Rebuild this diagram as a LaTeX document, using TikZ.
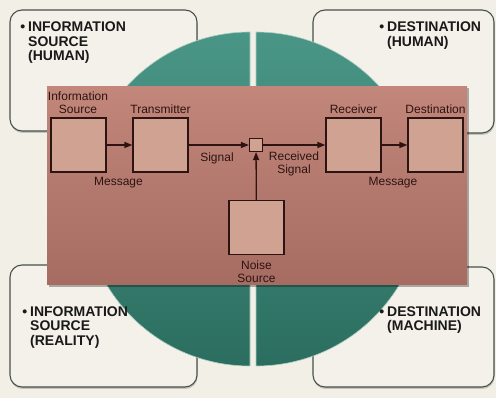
\documentclass[tikz,border=0pt]{standalone}
\usepackage{fontspec}
\setmainfont{Liberation Sans}
\usetikzlibrary{arrows.meta}

\definecolor{bgc}{RGB}{241,239,230}
\definecolor{cardfill}{RGB}{243,241,233}
\definecolor{cardline}{RGB}{72,82,72}
\definecolor{tealtop}{RGB}{74,150,134}
\definecolor{tealbot}{RGB}{43,110,96}
\definecolor{tealedge}{RGB}{170,205,192}
\definecolor{pinktop}{RGB}{194,134,122}
\definecolor{pinkbot}{RGB}{166,108,98}
\definecolor{boxfill}{RGB}{208,162,146}
\definecolor{ink}{RGB}{45,20,18}

\begin{document}
\begin{tikzpicture}[x=1pt,y=-1pt,
 card/.style={fill=cardfill, draw=cardline, line width=1.1pt, rounded corners=12pt},
 cardshadow/.style={fill=black, opacity=0.18, rounded corners=12pt},
 cardtext/.style={anchor=north west, inner sep=0pt, align=left,
   font=\fontsize{14}{14.5}\selectfont\bfseries, text=black!90},
 blk/.style={draw=ink, line width=1.2pt, fill=boxfill, minimum width=55pt,
   minimum height=54pt, inner sep=0pt},
 junction/.style={draw=ink, line width=1.2pt, fill=boxfill, minimum size=13pt, inner sep=0pt},
 lbl/.style={font=\fontsize{12}{12.6}\selectfont, text=ink, inner sep=0pt, anchor=base},
 flow/.style={draw=ink, line width=1.3pt, -{Triangle[length=8pt,width=6pt]}},
 half/.style={top color=tealtop, bottom color=tealbot, draw=tealedge, line width=0.6pt},
]
% background
\fill[bgc] (0,0) rectangle (496,398);
\useasboundingbox (0,0) rectangle (496,398);

% corner cards
\fill[cardshadow] (10.5,12) rectangle (197.5,133);
\draw[card] (10,10) rectangle (197,131);
\fill[cardshadow] (313.5,12) rectangle (494.5,135);
\draw[card] (313,10) rectangle (494,133);
\fill[cardshadow] (10.5,267) rectangle (197.5,389);
\draw[card] (10,265) rectangle (197,387);
\fill[cardshadow] (313.5,269) rectangle (494.5,389);
\draw[card] (313,267) rectangle (494,387);

% circle halves
\shade[half] (250,32) arc[start angle=90, end angle=270, radius=167pt] -- cycle;
\shade[half] (256,32) arc[start angle=90, end angle=-90, radius=167pt] -- cycle;

% central panel
\fill[black, opacity=0.3] (48.5,88.5) rectangle (468.5,287);
\shade[top color=pinktop, bottom color=pinkbot] (47,87) rectangle (467,285);

% blocks
\node[blk] (src) at (78.5,145) {};
\node[blk] (tx) at (160.5,145) {};
\node[junction] (sum) at (256,145) {};
\node[blk] (rx) at (353.5,145) {};
\node[blk] (dst) at (435.5,145) {};
\node[blk] (noise) at (256.5,227.5) {};

% connectors
\draw[flow] (src) -- (tx);
\draw[flow] (tx) -- (sum);
\draw[flow] (sum) -- (rx);
\draw[flow] (rx) -- (dst);
\draw[flow] (noise) -- (sum);

% labels
\node[lbl] (l1a) at (78,100.7) {Information};
\node[lbl] (l1b) at (78,113.3) {Source};
\node[lbl] (l2) at (160.5,113.3) {Transmitter};
\node[lbl] (l3) at (353.5,113.3) {Receiver};
\node[lbl] (l4) at (435.5,113.3) {Destination};
\node[lbl] (m1) at (118.5,186) {Message};
\node[lbl] (s1) at (217,161.5) {Signal};
\node[lbl] (r1a) at (294,161) {Received};
\node[lbl] (r1b) at (294,173.3) {Signal};
\node[lbl] (m2) at (393,186) {Message};
\node[lbl] (n1) at (256.5,270) {Noise};
\node[lbl] (n2) at (256.5,282.3) {Source};

% card texts
\node[cardtext] (t1) at (28,22) {\llap{•\hspace{3pt}}INFORMATION\\SOURCE\\(HUMAN)};
\node[cardtext] (t2) at (387,22) {\llap{•\hspace{3pt}}DESTINATION\\(HUMAN)};
\node[cardtext] (t3) at (30,306.5) {\llap{•\hspace{3pt}}INFORMATION\\SOURCE\\(REALITY)};
\node[cardtext] (t4) at (387,306.5) {\llap{•\hspace{3pt}}DESTINATION\\(MACHINE)};
\end{tikzpicture}
\end{document}
